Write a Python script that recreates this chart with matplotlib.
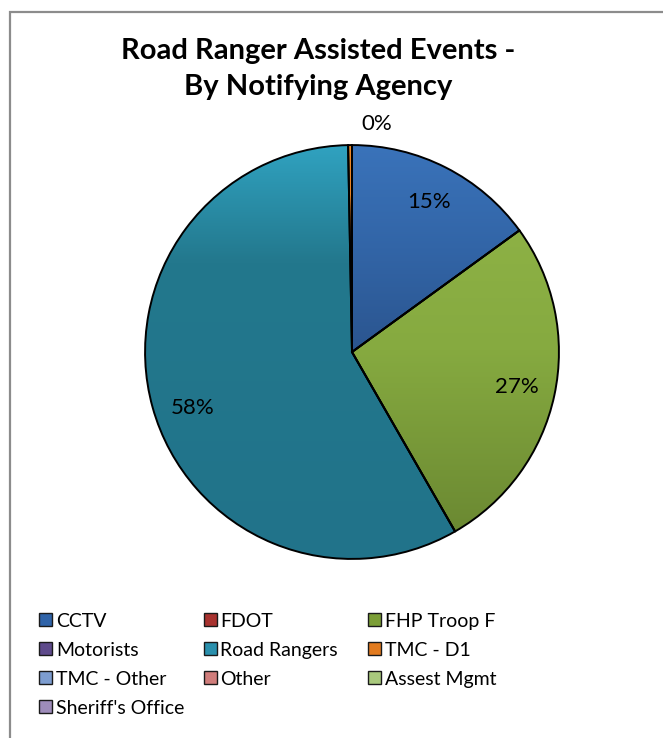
import numpy as np
import matplotlib as mpl
import matplotlib.pyplot as plt
from matplotlib.colors import LinearSegmentedColormap
from matplotlib.patches import Rectangle

mpl.rcParams["font.family"] = ["Lato", "DejaVu Sans"]

agencies = ["CCTV", "FDOT", "FHP Troop F", "Motorists", "Road Rangers", "TMC - D1",
            "TMC - Other", "Other", "Assest Mgmt", "Sheriff's Office"]
shares = [15.0, 0.0, 26.7, 0.0, 58.0, 0.3, 0.0, 0.0, 0.0, 0.0]
labels = ["15%", "", "27%", "", "58%", "0%", "", "", "", ""]

# gradient stops (position from bottom, colour) per slice
grad = {"CCTV": [(0, "#2b558f"), (0.5, "#3265a7"), (1, "#3a73ba")],
        "FHP Troop F": [(0, "#6b8932"), (0.6, "#86aa40"), (1, "#8db145")],
        "Road Rangers": [(0, "#21738a"), (0.72, "#23788d"), (1, "#30a2c0")],
        "TMC - D1": [(0, "#c86a18"), (0.5, "#e07a1f"), (1, "#f08a2a")]}
swatch = ["#2f63a8", "#a8322f", "#7b9e36", "#5e4a8b", "#2a90ad", "#e27b1f",
          "#7d9dd0", "#d07d7b", "#a9c97d", "#9e8cba"]

W, H = 663, 738
fig = plt.figure(figsize=(W / 100, H / 100), dpi=100)

# chart border (only top and left visible in the crop)
fig.patches.append(Rectangle((10 / W, -0.2), 1.2, (H - 12) / H + 0.2,
                             transform=fig.transFigure, fill=False,
                             ec="#8c8c8c", lw=1.6))

cx, cy, R = 352, 352, 209
ax = fig.add_axes([(cx - R) / W, (H - cy - R) / H, 2 * R / W, 2 * R / H])
wedges, _ = ax.pie(shares, startangle=90, counterclock=False, radius=1,
                   wedgeprops=dict(edgecolor="black", linewidth=1.4))

for w, name in zip(wedges, agencies):
    if name not in grad:
        continue
    v = w.get_path().vertices
    x0, x1, y0, y1 = v[:, 0].min(), v[:, 0].max(), v[:, 1].min(), v[:, 1].max()
    cmap = LinearSegmentedColormap.from_list(name, grad[name])
    img = ax.imshow(np.linspace(0, 1, 256)[:, None], cmap=cmap, origin="lower",
                    extent=[x0, x1, y0, y1], aspect="auto", zorder=0.5)
    img.set_clip_path(w)
    w.set_facecolor("none")
    w.set_zorder(1)

for w, lab, s in zip(wedges, labels, shares):
    if not lab:
        continue
    ang = np.deg2rad((w.theta1 + w.theta2) / 2)
    if s < 1:
        # tiny slice: label sits just above the pie top
        ax.text(0.12, 1.1, lab, ha="center", va="center", fontsize=16)
    elif s > 50:
        ang = ang + np.deg2rad(4)
        ax.text(0.815 * np.cos(ang), 0.815 * np.sin(ang), lab,
                ha="center", va="center", fontsize=16)
    else:
        ax.text(0.815 * np.cos(ang), 0.815 * np.sin(ang), lab,
                ha="center", va="center", fontsize=16)

ax.set_xlim(-1.01, 1.01)
ax.set_ylim(-1.01, 1.01)
ax.set_aspect("equal")
ax.axis("off")

fig.text(318 / W, 1 - 59 / H, "Road Ranger Assisted Events -", ha="center",
         va="baseline", fontsize=21, fontweight="bold")
fig.text(318 / W, 1 - 95 / H, "By Notifying Agency", ha="center",
         va="baseline", fontsize=21, fontweight="bold")

# legend, row-major, 3 columns
for i, (name, col) in enumerate(zip(agencies, swatch)):
    r, c = divmod(i, 3)
    x = 39 + c * 164.5
    yb = 627 + r * 29
    fig.patches.append(Rectangle((x / W, 1 - (yb - 1) / H), 13 / W, 13 / H,
                                 transform=fig.transFigure, fc=col,
                                 ec="#1a1a1a", lw=1.0))
    fig.text((x + 17) / W, 1 - yb / H, name, ha="left", va="baseline",
             fontsize=14)

fig.savefig("out.png", dpi=100)
